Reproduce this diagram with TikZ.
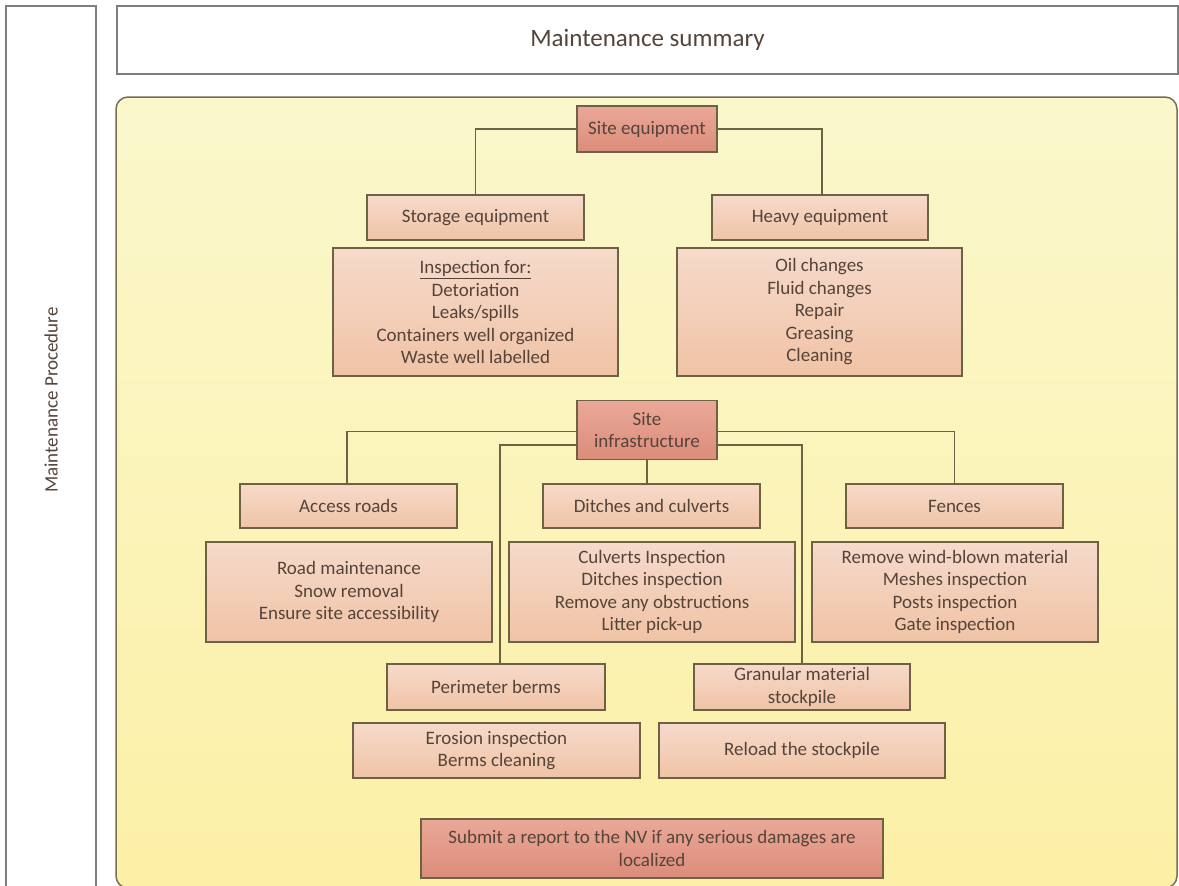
\documentclass[tikz,border=0pt]{standalone}
\usepackage{fontspec}
\setmainfont{Carlito}
\usetikzlibrary{calc}
\definecolor{panelA}{HTML}{FAF7CC}
\definecolor{panelB}{HTML}{FCF0A6}
\definecolor{panelline}{HTML}{7A6E50}
\definecolor{boxA}{HTML}{F6DACB}
\definecolor{boxB}{HTML}{F0C3A5}
\definecolor{headA}{HTML}{EAA898}
\definecolor{headB}{HTML}{DC8C7A}
\definecolor{boxline}{HTML}{6E6245}
\definecolor{txt}{HTML}{55443A}
\definecolor{frame}{HTML}{7F7F7F}
\tikzset{
  child/.style={draw=boxline, line width=1.6pt, top color=boxA, bottom color=boxB,
    inner sep=0pt, align=center, font=\fontsize{19}{22.5}\selectfont, text=txt},
  head/.style={draw=boxline, line width=1.6pt, top color=headA, bottom color=headB,
    inner sep=0pt, align=center, font=\fontsize{19}{22.5}\selectfont, text=txt},
  conn/.style={draw=boxline, line width=1.8pt},
  bx/.style 2 args={minimum width=#1pt, minimum height=#2pt}
}
\begin{document}
\begin{tikzpicture}[x=1pt,y=-1pt]
\useasboundingbox (0,0) rectangle (1179,886);
\clip (0,0) rectangle (1179,886);
\fill[white] (0,0) rectangle (1179,886);
% left frame
\draw[frame, line width=1.5pt] (6,6) rectangle (96,900);
\node[rotate=90, font=\fontsize{19}{22}\selectfont, text=txt] (proc) at (51,400) {Maintenance Procedure};
% title
\node[draw=frame, line width=1.5pt, minimum width=1061pt, minimum height=68pt, inner sep=0pt,
  font=\fontsize{25}{28}\selectfont, text=txt] (summary) at (647.5,40) {Maintenance summary};
% panel
\draw[draw=panelline, line width=1.5pt, rounded corners=12pt, top color=panelA, bottom color=panelB]
  (116,97) rectangle (1177,888);

% Site equipment
\node[head, bx={140}{46}] (seq) at (647,129) {Site equipment};
\node[child, bx={217}{45}] (stor) at (475.5,217.5) {Storage equipment};
\node[child, bx={216}{45}] (heavy) at (820,217.5) {Heavy equipment};
\node[child, bx={285}{128}] (storD) at (475.5,312) {\underline{Inspection for:}\\Detoriation\\Leaks/spills\\Containers well organized\\Waste well labelled};
\node[child, bx={285}{128}] (heavyD) at (819.5,312) {Oil changes\\Fluid changes\\Repair\\Greasing\\Cleaning};
\draw[conn] (seq.west) -| (stor.north);
\draw[conn] (seq.east) -| ($(heavy.north)+(2,0)$);

% Site infrastructure
\node[head, bx={140}{59}] (sinf) at (647,430) {Site\\infrastructure};
\node[child, bx={217}{44}] (access) at (348.5,506) {Access roads};
\node[child, bx={217}{44}] (ditch) at (651.5,506) {Ditches and culverts};
\node[child, bx={217}{44}] (fence) at (954.5,506) {Fences};
\node[child, bx={286}{100}] (roadD) at (349,592) {Road maintenance\\Snow removal\\Ensure site accessibility};
\node[child, bx={286}{100}] (ditchD) at (652,592) {Culverts Inspection\\Ditches inspection\\Remove any obstructions\\Litter pick-up};
\node[child, bx={286}{100}] (fenceD) at (955,592) {Remove wind-blown material\\Meshes inspection\\Posts inspection\\Gate inspection};
\node[child, bx={218}{46}] (berm) at (496,687) {Perimeter berms};
\node[child, bx={216}{46}] (gran) at (802,687) {Granular material\\stockpile};
\node[child, bx={287}{55}] (eros) at (496.5,750.5) {Erosion inspection\\Berms cleaning};
\node[child, bx={286}{55}] (reload) at (802,750.5) {Reload the stockpile};
\node[head, bx={462}{59}] (submit) at (652,848.5) {Submit a report to the NV if any serious damages are\\localized};

\draw[conn] ($(sinf.west)+(0,1.5)$) -| ($(access.north)+(-1.5,0)$);
\draw[conn] ($(sinf.east)+(0,1.5)$) -| (fence.north);
\draw[conn] ($(sinf.west)+(0,15)$) -| ($(berm.north)+(4,0)$);
\draw[conn] ($(sinf.east)+(0,15)$) -| (gran.north);
\draw[conn] (sinf.south) -- (sinf.south |- ditch.north);
\end{tikzpicture}
\end{document}
